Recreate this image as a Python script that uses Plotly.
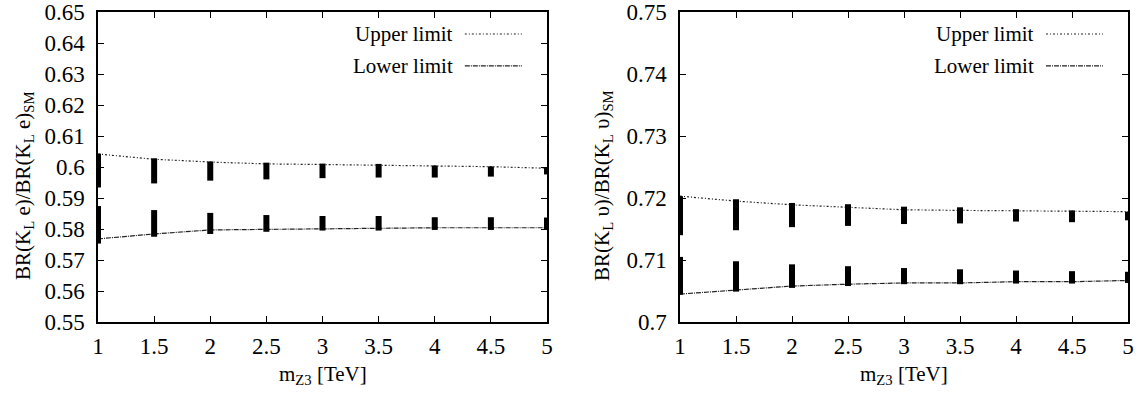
import plotly.graph_objects as go

# ---------------- data ----------------
m_z3 = [1, 1.5, 2, 2.5, 3, 3.5, 4, 4.5, 5]

# left panel: BR(K_L e)/BR(K_L e)_SM
e_upper_line = [0.6042, 0.6025, 0.6016, 0.6010, 0.6008, 0.6006, 0.6002, 0.6001, 0.5996]
e_upper_top = [0.6043, 0.6028, 0.6018, 0.6014, 0.6011, 0.6010, 0.6005, 0.6002, 0.5998]
e_upper_bot = [0.5934, 0.5947, 0.5956, 0.5960, 0.5964, 0.5966, 0.5966, 0.5969, 0.5976]
e_lower_line = [0.5768, 0.5784, 0.5797, 0.5799, 0.5801, 0.5801, 0.5804, 0.5804, 0.5804]
e_lower_top = [0.5874, 0.5861, 0.5852, 0.5845, 0.5842, 0.5842, 0.5838, 0.5838, 0.5837]
e_lower_bot = [0.5753, 0.5775, 0.5784, 0.5791, 0.5795, 0.5795, 0.5797, 0.5797, 0.5798]

# right panel: BR(K_L υ)/BR(K_L υ)_SM
v_upper_line = [0.7203, 0.7195, 0.7189, 0.7185, 0.7181, 0.7180, 0.7179, 0.7178, 0.7178]
v_upper_top = [0.7203, 0.7198, 0.7192, 0.7190, 0.7186, 0.7185, 0.7182, 0.7180, 0.7178]
v_upper_bot = [0.7140, 0.7148, 0.7153, 0.7155, 0.7158, 0.7159, 0.7162, 0.7161, 0.7164]
v_lower_line = [0.7045, 0.7052, 0.7058, 0.7061, 0.7063, 0.7063, 0.7065, 0.7065, 0.7067]
v_lower_top = [0.7105, 0.7098, 0.7093, 0.7090, 0.7087, 0.7085, 0.7083, 0.7082, 0.7081]
v_lower_bot = [0.7044, 0.7049, 0.7055, 0.7058, 0.7061, 0.7061, 0.7062, 0.7062, 0.7063]

x_ticks = [1, 1.5, 2, 2.5, 3, 3.5, 4, 4.5, 5]
left_yticks = [0.55, 0.56, 0.57, 0.58, 0.59, 0.6, 0.61, 0.62, 0.63, 0.64, 0.65]
right_yticks = [0.7, 0.71, 0.72, 0.73, 0.74, 0.75]

FONT = "Liberation Serif"
LINECOL = "#222222"
UP_DASH = "2px,2px,1px,2px"
LO_DASH = "5px,1px,1px,1px"

fig = go.Figure()


def band(top, bot, xa, ya):
    mid = [(t + b) / 2 for t, b in zip(top, bot)]
    half = [(t - b) / 2 for t, b in zip(top, bot)]
    return go.Scatter(
        x=m_z3, y=mid, mode="markers", xaxis=xa, yaxis=ya,
        marker=dict(size=1, opacity=0),
        error_y=dict(type="data", array=half, symmetric=True,
                     thickness=6, width=0, color="black"),
        cliponaxis=False, showlegend=False, hoverinfo="skip")


def limit(vals, dash, xa, ya):
    return go.Scatter(x=m_z3, y=vals, mode="lines", xaxis=xa, yaxis=ya,
                      line=dict(color=LINECOL, width=1.2, dash=dash),
                      showlegend=False)


for (ul, ut, ub, ll, lt, lb, xa, ya) in [
    (e_upper_line, e_upper_top, e_upper_bot, e_lower_line, e_lower_top, e_lower_bot, "x", "y"),
    (v_upper_line, v_upper_top, v_upper_bot, v_lower_line, v_lower_top, v_lower_bot, "x2", "y2"),
]:
    fig.add_trace(limit(ul, UP_DASH, xa, ya))
    fig.add_trace(limit(ll, LO_DASH, xa, ya))
    fig.add_trace(band(ut, ub, xa, ya))
    fig.add_trace(band(lt, lb, xa, ya))

axis_common = dict(
    showline=True, linecolor="black", linewidth=1.5, mirror="ticks",
    ticks="inside", ticklen=6, tickwidth=1.2, tickcolor="black",
    showgrid=False, zeroline=False, automargin=False,
    ticklabeloverflow="allow",
    tickfont=dict(family=FONT, size=23, color="black"),
)

ydom = [1 - 322 / 394, 1 - 12 / 394]
fig.update_layout(
    template="none",
    width=1141, height=394,
    margin=dict(l=0, r=0, t=0, b=0, pad=0, autoexpand=False),
    paper_bgcolor="white", plot_bgcolor="white",
    xaxis=dict(domain=[98 / 1141, 547 / 1141], range=[1, 5], tickvals=x_ticks,
               anchor="y", ticklabelstandoff=3, **axis_common),
    yaxis=dict(domain=ydom, range=[0.55, 0.65], tickvals=left_yticks,
               anchor="x", ticklabelstandoff=7, **axis_common),
    xaxis2=dict(domain=[680 / 1141, 1128 / 1141], range=[1, 5], tickvals=x_ticks,
                anchor="y2", ticklabelstandoff=3, **axis_common),
    yaxis2=dict(domain=ydom, range=[0.70, 0.75], tickvals=right_yticks,
                anchor="x2", ticklabelstandoff=7, **axis_common),
    showlegend=False,
)

tfont = dict(family=FONT, size=21, color="black")
lfont = dict(family=FONT, size=21, color="black")
annotations = [
    dict(text="BR(K<sub>L</sub> e)/BR(K<sub>L</sub> e)<sub>SM</sub>", xref="paper", yref="paper",
         x=24 / 1141, y=1 - 186 / 394, textangle=-90, showarrow=False, font=tfont,
         xanchor="center", yanchor="middle"),
    dict(text="BR(K<sub>L</sub> υ)/BR(K<sub>L</sub> υ)<sub>SM</sub>", xref="paper", yref="paper",
         x=603 / 1141, y=1 - 186 / 394, textangle=-90, showarrow=False, font=tfont,
         xanchor="center", yanchor="middle"),
    dict(text="m<sub>Z3</sub> [TeV]", xref="paper", yref="paper",
         x=(98 + 547) / 2 / 1141, y=1 - 375 / 394, showarrow=False, font=tfont,
         xanchor="center", yanchor="middle"),
    dict(text="m<sub>Z3</sub> [TeV]", xref="paper", yref="paper",
         x=(680 + 1128) / 2 / 1141, y=1 - 375 / 394, showarrow=False, font=tfont,
         xanchor="center", yanchor="middle"),
]
shapes = []
for xa, ya in [("x", "y"), ("x2", "y2")]:
    for label, yy, dash in [("Upper limit", 0.929, UP_DASH), ("Lower limit", 0.826, LO_DASH)]:
        annotations.append(dict(text=label, xref=f"{xa} domain", yref=f"{ya} domain",
                                x=0.795, y=yy, xanchor="right", yanchor="middle",
                                showarrow=False, font=lfont))
        shapes.append(dict(type="line", xref=f"{xa} domain", yref=f"{ya} domain",
                           x0=0.817, x1=0.944, y0=yy, y1=yy,
                           line=dict(color=LINECOL, width=1.2, dash=dash)))

fig.update_layout(annotations=annotations, shapes=shapes)
fig.write_html("out.html")
